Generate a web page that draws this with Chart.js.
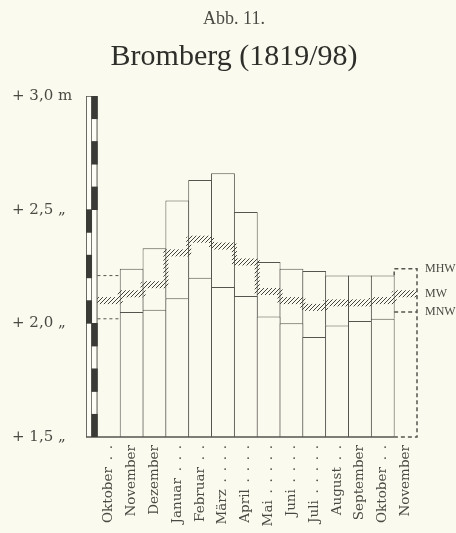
<!DOCTYPE html>
<html><head><meta charset="utf-8">
<script src="https://cdn.jsdelivr.net/npm/chart.js@4"></script>
<style>html,body{margin:0;padding:0;background:#fbfaee;}canvas{display:block}</style>
</head><body>
<canvas id="c" width="456" height="533"></canvas>
<script>
// ---- data ----
const months = ['Oktober','November','Dezember','Januar','Februar','März','April','Mai','Juni','Juli','August','September','Oktober','November'];
const tickLabels = ['Oktober\u2002.\u2002.','November','Dezember','Januar\u2002.\u2002.\u2002.','Februar\u2002.\u2002.','März\u2002.\u2002.\u2002.\u2002.','April\u2002.\u2002.\u2002.\u2002.','Mai\u2002.\u2002.\u2002.\u2002.\u2002.','Juni\u2002.\u2002.\u2002.\u2002.','Juli\u2002.\u2002.\u2002.\u2002.\u2002.','August\u2002.\u2002.','September','Oktober\u2002.\u2002.','November'];
const mhw = [2.21, 2.24, 2.33, 2.54, 2.63, 2.66, 2.49, 2.27, 2.24, 2.23, 2.21, 2.21, 2.21, 2.24];
const mw  = [2.10, 2.13, 2.17, 2.31, 2.37, 2.34, 2.27, 2.14, 2.10, 2.07, 2.09, 2.09, 2.10, 2.13];
const mnw = [2.02, 2.05, 2.06, 2.11, 2.20, 2.16, 2.12, 2.03, 2.00, 1.94, 1.99, 2.01, 2.02, 2.05];
const yTickValues = [1.5, 2.0, 2.5, 3.0];
const yTickLabels = ['+ 1,5 „', '+ 2,0 „', '+ 2,5 „', '+ 3,0 m'];
const legendLabels = ['MHW', 'MW', 'MNW'];
const gaugeLeftBlack  = [[2.4,2.5],[2.2,2.3],[2.0,2.1]];
const gaugeRightBlack = [[2.9,3.0],[2.7,2.8],[2.5,2.6],[1.9,2.0],[1.7,1.8],[1.5,1.6]];
const BASE = 1.5, TOP = 3.0;

// ---- styles ----
const PAPER = '#fbfaee';
const LINE = '#55554f';
const TEXT = '#4a4a44';
function makeHatch() {
  const c = document.createElement('canvas'); c.width = 4; c.height = 4;
  const g = c.getContext('2d');
  g.strokeStyle = '#45453f'; g.lineWidth = 1.0;
  g.beginPath();
  g.moveTo(0,4); g.lineTo(4,0);
  g.moveTo(-1,1); g.lineTo(1,-1);
  g.moveTo(3,5); g.lineTo(5,3);
  g.stroke();
  return g.createPattern(c, 'repeat');
}
const HATCH = makeHatch();

const last = months.length - 1;
const solidIdx = months.map((m,i)=>i).filter(i => i > 0 && i < last);
const barCommon = {type:'bar', grouped:false, categoryPercentage:1, barPercentage:1.044, borderSkipped:false};

const datasets = [
  // gauge black blocks
  {type:'bar', xAxisID:'xg', grouped:false, categoryPercentage:1, barPercentage:1,
   data: gaugeLeftBlack.map(r=>({x:-0.875, y:r})).concat(gaugeRightBlack.map(r=>({x:-0.625, y:r}))),
   backgroundColor:'#3a3a36', borderWidth:0, order:1},
  // gauge outline
  {type:'bar', xAxisID:'xg', grouped:false, categoryPercentage:1, barPercentage:1, borderSkipped:false,
   data:[{x:-0.875, y:[BASE, TOP]}, {x:-0.625, y:[BASE, TOP]}],
   backgroundColor:'#fdfdf6', borderColor:LINE,
   borderWidth: ctx => ctx.dataIndex === 0 ? {left:1.2, top:1, bottom:1, right:1} : {left:0, top:1, bottom:1, right:1.2},
   order:2},
  // MW hatch bands
  {type:'bar', grouped:false, categoryPercentage:1, barPercentage:1,
   data: months.map((m,i)=>({x:i, y:[mw[i]-0.014, mw[i]+0.014]})),
   backgroundColor:HATCH, borderWidth:0, order:10},
  // MW step connectors
  {type:'line', data: months.map((m,i)=>({x:i, y:mw[i]})), stepped:'middle',
   borderColor:HATCH, borderWidth:5, pointRadius:0, fill:false, order:10},
  // lower part MNW bars
  Object.assign({}, barCommon, {
   data: solidIdx.map(i=>({x:i, y:[BASE, mnw[i]]})),
   backgroundColor:PAPER, borderColor:LINE,
   borderWidth:{left:1, right:1, top:1, bottom:0}, order:20}),
  // upper part to MHW
  Object.assign({}, barCommon, {
   data: solidIdx.map(i=>({x:i, y:[mnw[i], mhw[i]]})),
   backgroundColor:PAPER, borderColor:LINE,
   borderWidth:{left:1, right:1, top:1, bottom:0}, order:20}),
  // dashed lines of first column
  {type:'line', data:[{x:-0.5,y:mhw[0]},{x:0.5,y:mhw[0]},{x:0,y:null},{x:-0.5,y:mnw[0]},{x:0.5,y:mnw[0]}],
   borderColor:LINE, borderWidth:1, borderDash:[3,3], pointRadius:0, fill:false, spanGaps:false, clip:4, order:5},
  // dashed box of last column
  {type:'line', data:[{x:last-0.5,y:mhw[last-1]},{x:last-0.5,y:mhw[last]},{x:last+0.5,y:mhw[last]},{x:last+0.5,y:BASE},{x:last-0.5,y:BASE},
                      {x:last,y:null},{x:last-0.5,y:mnw[last]},{x:last+0.5,y:mnw[last]}],
   borderColor:LINE, borderWidth:1.5, borderDash:[4,3], pointRadius:0, fill:false, spanGaps:false, clip:4, order:5},
  // baseline
  {type:'line', data:[{x:-1,y:BASE},{x:last-0.5,y:BASE}],
   borderColor:LINE, borderWidth:1.6, pointRadius:0, fill:false, clip:4, order:4}
];

new Chart(document.getElementById('c'), {
  type:'bar',
  data:{datasets},
  options:{
    responsive:false, animation:false, devicePixelRatio:1, events:[],
    layout:{padding:{left:12, right:0, top:0, bottom:0}},
    plugins:{
      legend:{display:false}, tooltip:{enabled:false},
      title:{display:true, text:'Abb. 11.', color:TEXT, font:{family:'Liberation Serif', size:18, weight:'normal'}, padding:{top:8, bottom:9.4}},
      subtitle:{display:true, text:'Bromberg (1819/98)', color:'#2e2e2a', font:{family:'Liberation Serif', size:30, weight:'normal'}, padding:{top:0, bottom:21}}
    },
    scales:{
      x:{type:'linear', min:-1, max:13.5, offset:false,
         grid:{display:false, drawTicks:false}, border:{display:false},
         ticks:{stepSize:1, includeBounds:false, autoSkip:false, minRotation:90, maxRotation:90, padding:8,
                color:TEXT, font:{family:'DejaVu Serif', size:13.5},
                callback:(v)=> (Number.isInteger(v) && v >= 0 && v < tickLabels.length) ? tickLabels[v] : ''},
         afterFit:a=>{a.height = 96;}},
      xg:{type:'linear', min:-1, max:13.5, offset:false, display:false},
      y:{type:'linear', min:BASE, max:TOP, position:'left',
         grid:{display:false, drawTicks:false}, border:{display:false},
         afterBuildTicks:a=>{a.ticks = yTickValues.map(v=>({value:v}));},
         ticks:{crossAlign:'far', color:TEXT, font:{family:'DejaVu Serif', size:15},
                callback:(v,i)=> yTickLabels[i]},
         afterFit:a=>{a.width = 74;}},
      yr:{type:'linear', min:BASE, max:TOP, position:'right',
         grid:{display:false, drawTicks:false}, border:{display:false},
         afterBuildTicks:a=>{a.ticks = [mhw[last], mw[last], mnw[last]].map(v=>({value:v}));},
         ticks:{padding:8, color:TEXT, font:{family:'Liberation Serif', size:12},
                callback:(v,i)=> legendLabels[i]},
         afterFit:a=>{a.width = 39;}}
    }
  }
});
</script>
</body></html>
